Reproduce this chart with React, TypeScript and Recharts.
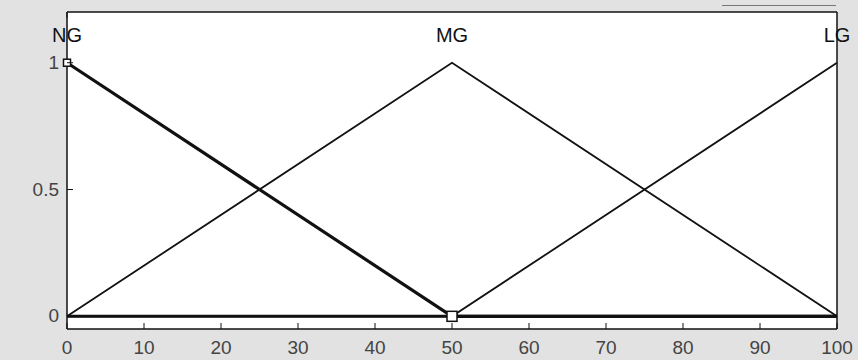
import React from 'react';
import { ComposedChart, Line, XAxis, YAxis, CartesianGrid, ReferenceDot, ReferenceLine } from 'recharts';

const xs = [0, 50, 100];
const ngValues = [1, 0, 0];
const mgValues = [0, 1, 0];
const lgValues = [0, 0, 1];
const xTicks = [0, 10, 20, 30, 40, 50, 60, 70, 80, 90, 100];
const yTicks = [0, 0.5, 1];
const mfNames = ['NG', 'MG', 'LG'];
const mfPeaks = [0, 50, 100];
const labelLevel = 1.11;

const data = xs.map((x, i) => ({ x, ng: ngValues[i], mg: mgValues[i], lg: lgValues[i] }));

const FONT = '"Liberation Sans", Arial, Helvetica, sans-serif';
const INK = '#111';

const BottomTick = (props: any) => {
  const { x, y, payload } = props;
  return (
    <g>
      <line x1={x} x2={x} y1={y} y2={y - 6} stroke={INK} strokeWidth={1} />
      <text x={x} y={y + 25} textAnchor="middle" fontFamily={FONT} fontSize={19} fill="#444">
        {payload.value}
      </text>
    </g>
  );
};

const TopTick = (props: any) => {
  const { x, y } = props;
  return <line x1={x} x2={x} y1={y} y2={y + 6} stroke={INK} strokeWidth={1} />;
};

const LeftTick = (props: any) => {
  const { x, y, payload } = props;
  return (
    <g>
      <line x1={x} x2={x + 6} y1={y} y2={y} stroke={INK} strokeWidth={1} />
      <text x={x - 8} y={y} dy={6} textAnchor="end" fontFamily={FONT} fontSize={19} fill="#444">
        {payload.value}
      </text>
    </g>
  );
};

const RightTick = (props: any) => {
  const { x, y } = props;
  return <line x1={x} x2={x - 6} y1={y} y2={y} stroke={INK} strokeWidth={1} />;
};

const NgDot = (props: any) => {
  const { cx, cy, index } = props;
  if (index > 1) return <g key={`d${index}`} />;
  const s = index === 0 ? 7 : 10;
  return (
    <rect
      key={`d${index}`}
      x={cx - s / 2}
      y={cy - s / 2}
      width={s}
      height={s}
      fill="#fff"
      stroke={INK}
      strokeWidth={1.5}
    />
  );
};

export default function App() {
  return (
    <div style={{ position: 'absolute', left: 0, top: 0, width: 858, height: 360, background: '#e2e2e2' }}>
      <div style={{ position: 'absolute', left: 722, top: 5, width: 114, height: 1, background: '#777' }} />
      <ComposedChart width={858} height={360} data={data} margin={{ top: 0, right: 0, bottom: 0, left: 0 }}>
        <CartesianGrid fill="#fff" stroke="none" horizontal={false} vertical={false} />
        <XAxis
          dataKey="x"
          type="number"
          domain={[0, 100]}
          ticks={xTicks}
          height={31}
          tickSize={0}
          tickMargin={0}
          tick={<BottomTick />}
          axisLine={{ stroke: INK, strokeWidth: 1.5 }}
          interval={0}
        />
        <XAxis
          xAxisId="top"
          orientation="top"
          type="number"
          domain={[0, 100]}
          ticks={xTicks}
          height={12}
          tickSize={0}
          tickMargin={0}
          tick={<TopTick />}
          axisLine={{ stroke: INK, strokeWidth: 1.5 }}
          interval={0}
        />
        <YAxis
          type="number"
          domain={[-0.05, 1.2]}
          ticks={yTicks}
          width={67}
          tickSize={0}
          tickMargin={0}
          tick={<LeftTick />}
          axisLine={{ stroke: INK, strokeWidth: 1.5 }}
          interval={0}
        />
        <YAxis
          yAxisId="right"
          orientation="right"
          type="number"
          domain={[-0.05, 1.2]}
          ticks={yTicks}
          width={21}
          tickSize={0}
          tickMargin={0}
          tick={<RightTick />}
          axisLine={{ stroke: INK, strokeWidth: 1.5 }}
          interval={0}
        />
        <ReferenceLine y={0} stroke={INK} strokeWidth={3} />
        <Line type="linear" dataKey="mg" stroke={INK} strokeWidth={1.8} dot={false} isAnimationActive={false} />
        <Line type="linear" dataKey="lg" stroke={INK} strokeWidth={1.8} dot={false} isAnimationActive={false} />
        <Line type="linear" dataKey="ng" stroke={INK} strokeWidth={3.2} dot={<NgDot />} isAnimationActive={false} />
        {mfNames.map((name, i) => (
          <ReferenceDot
            key={name}
            x={mfPeaks[i]}
            y={labelLevel}
            r={0}
            ifOverflow="visible"
            label={{ value: name, position: 'center', fontSize: 20, fill: INK, fontFamily: FONT }}
          />
        ))}
      </ComposedChart>
    </div>
  );
}
